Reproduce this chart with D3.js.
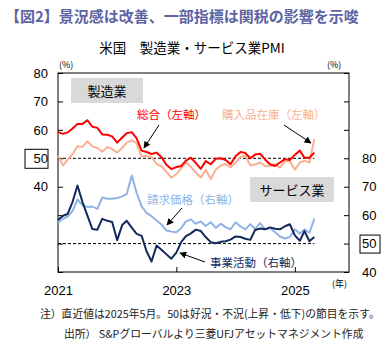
<!DOCTYPE html>
<html>
<head>
<meta charset="utf-8">
<script src="https://cdn.jsdelivr.net/npm/d3@7"></script>
<style>
  body { margin: 0; background: #fff; }
  svg { font-family: "Noto Sans CJK JP", "Noto Sans", sans-serif; }
</style>
</head>
<body>
<div id="chart"></div>
<script>
// monthly data, 2021-01 .. 2025-05
const months = d3.timeMonth.range(new Date(2021, 0, 1), new Date(2025, 5, 1));

// 製造業 総合 (left axis)
const mfgComposite = [
  59.2, 58.6, 59.1, 60.5, 62.1, 62.1, 63.4, 61.1, 60.7, 58.4, 58.3, 57.7,
  55.5, 57.3, 58.8, 59.2, 57.0, 52.7, 52.2, 51.5, 52.0, 50.4, 47.7, 46.2,
  46.9, 47.3, 49.2, 50.2, 48.4, 46.3, 49.0, 47.9, 49.8, 50.0, 49.4, 47.9,
  50.7, 52.2, 51.9, 50.0, 51.3, 51.6, 49.6, 47.9, 47.3, 48.5, 49.7, 49.4,
  51.2, 52.7, 50.2, 50.2, 52.0
];
// 製造業 購入品在庫 (left axis)
const mfgStocks = [
  51.0, 47.5, 49.5, 51.5, 54.2, 54.0, 56.0, 54.2, 53.6, 52.3, 54.0, 53.2,
  52.0, 53.7, 55.5, 56.3, 55.3, 50.6, 50.8, 50.5, 48.0, 47.2, 45.3, 43.2,
  44.4, 46.5, 48.5, 47.0, 45.0, 43.2, 46.0, 42.7, 46.0, 47.4, 48.0, 46.8,
  48.5, 50.5, 51.0, 47.5, 47.8, 48.5, 47.2, 47.4, 47.9, 46.7, 49.0, 49.0,
  46.0, 48.5, 49.1, 48.5, 56.7
];
// サービス業 請求価格 (right axis)
const svcPrices = [
  57.3, 58.7, 59.5, 61.5, 65.5, 63.5, 62.9, 63.0, 62.2, 66.2, 65.8, 65.8,
  66.0, 66.6, 67.4, 73.9, 67.8, 63.1, 60.8, 59.6, 58.1, 56.7, 54.6, 54.2,
  54.0, 55.5, 57.8, 58.5, 57.0, 57.8, 56.2, 57.5, 55.5, 57.0, 55.8, 55.0,
  57.5, 56.0, 55.0, 56.8, 55.2, 57.2, 55.0, 55.5, 54.0, 52.5, 51.8, 52.3,
  55.0, 53.5, 55.0, 53.8, 58.8
];
// サービス業 事業活動 (right axis)
const svcActivity = [
  58.3, 59.8, 60.4, 64.7, 70.4, 64.6, 59.9, 55.1, 54.9, 58.7, 58.0, 57.6,
  51.2, 56.5, 58.0, 55.6, 53.4, 52.7, 47.3, 43.7, 49.3, 47.8, 46.2, 44.7,
  46.8, 50.6, 52.6, 53.6, 54.9, 54.4, 52.3, 50.5, 50.1, 50.6, 50.8, 51.4,
  52.5, 52.3, 51.7, 51.3, 54.8, 55.3, 55.0, 55.7, 55.2, 55.0, 56.1, 56.8,
  52.9, 51.0, 54.4, 50.8, 52.3
];

const leftTicks = [10, 20, 30, 40, 50, 60, 70, 80];
const rightTicks = [40, 50, 60, 70, 80, 90, 100, 110];
const yearTicks = [2021, 2023, 2025];

const width = 391, height = 350;
const plot = {left: 58, right: 349, top: 73, bottom: 272};

const svg = d3.select('#chart').append('svg')
  .attr('width', width).attr('height', height);

const x = d3.scaleTime()
  .domain([new Date(2021, 0, 1), new Date(2025, 11, 1)])
  .range([plot.left, plot.right]);
const yL = d3.scaleLinear().domain([10, 80]).range([plot.bottom, plot.top]);
const yR = d3.scaleLinear().domain([40, 110]).range([plot.bottom, plot.top]);

// title
svg.append('text').attr('x', 5).attr('y', 22)
  .attr('fill', '#5d63a3').attr('font-size', 15).attr('font-weight', 'bold')
  .text('【図2】景況感は改善、一部指標は関税の影響を示唆');
svg.append('text').attr('x', 192).attr('y', 53).attr('text-anchor', 'middle')
  .attr('font-size', 13.5).attr('fill', '#000')
  .text('米国　製造業・サービス業PMI');

// frame
svg.append('rect')
  .attr('x', plot.left).attr('y', plot.top)
  .attr('width', plot.right - plot.left).attr('height', plot.bottom - plot.top)
  .attr('fill', 'none').attr('stroke', '#000').attr('stroke-width', 1);

// axes (ticks point inward)
const axisL = svg.append('g')
  .attr('transform', `translate(${plot.left},0)`)
  .call(d3.axisLeft(yL).tickValues(leftTicks).tickSize(-5).tickPadding(10)
    .tickFormat(d => d >= 40 ? d : ''));
const axisR = svg.append('g')
  .attr('transform', `translate(${plot.right},0)`)
  .call(d3.axisRight(yR).tickValues(rightTicks).tickSize(-5).tickPadding(13)
    .tickFormat(d => d <= 80 ? d : ''));
const axisB = svg.append('g')
  .attr('transform', `translate(0,${plot.bottom})`)
  .call(d3.axisBottom(x).tickValues(yearTicks.map(y => new Date(y, 0, 1)))
    .tickSize(-5).tickPadding(14).tickFormat(d3.timeFormat('%Y')));

[axisL, axisR, axisB].forEach(g => {
  g.select('.domain').remove();
  g.selectAll('line').attr('stroke', '#000');
  g.selectAll('text').attr('font-size', 13).attr('fill', '#000')
    .attr('font-family', '"Liberation Sans", "Noto Sans", sans-serif');
});

// boxes around 50
axisL.selectAll('.tick').filter(d => d === 50).append('rect')
  .attr('x', -33).attr('y', -9.5).attr('width', 23).attr('height', 19)
  .attr('fill', 'none').attr('stroke', '#000');
axisR.selectAll('.tick').filter(d => d === 50).append('rect')
  .attr('x', 11).attr('y', -9).attr('width', 20).attr('height', 18)
  .attr('fill', 'none').attr('stroke', '#000');

// unit labels
svg.append('text').attr('x', 59).attr('y', 68).attr('font-size', 9).text('(%)');
svg.append('text').attr('x', 327).attr('y', 68).attr('font-size', 9).text('(%)');
svg.append('text').attr('x', 332).attr('y', 287).attr('font-size', 9).text('(年)');

// 50 lines
const last = months[months.length - 1];
svg.append('line')
  .attr('x1', x(months[0])).attr('x2', x(last))
  .attr('y1', yL(50)).attr('y2', yL(50))
  .attr('stroke', '#000').attr('stroke-dasharray', '3,2');
svg.append('line')
  .attr('x1', x(months[0])).attr('x2', x(last))
  .attr('y1', yR(50)).attr('y2', yR(50))
  .attr('stroke', '#000').attr('stroke-dasharray', '3,2');

// panel labels
const panel = (x0, y0, w, h, label) => {
  svg.append('rect').attr('x', x0).attr('y', y0).attr('width', w).attr('height', h)
    .attr('fill', '#d9d9d9');
  svg.append('text').attr('x', x0 + w / 2).attr('y', y0 + h / 2 + 5)
    .attr('text-anchor', 'middle').attr('font-size', 13).attr('fill', '#000')
    .text(label);
};
panel(71, 78, 72, 25, '製造業');
panel(250, 177, 84, 25, 'サービス業');

// lines
const series = [
  {values: mfgStocks, y: yL, color: '#fbb08f'},
  {values: mfgComposite, y: yL, color: '#ff0000'},
  {values: svcPrices, y: yR, color: '#8fb4e3'},
  {values: svcActivity, y: yR, color: '#13285c'}
];
series.forEach(s => {
  svg.append('path')
    .datum(s.values)
    .attr('fill', 'none')
    .attr('stroke', s.color)
    .attr('stroke-width', 2)
    .attr('stroke-linejoin', 'round')
    .attr('d', d3.line().x((d, i) => x(months[i])).y(d => s.y(d)));
});

// arrowheads
svg.append('defs').append('marker')
  .attr('id', 'arr').attr('viewBox', '0 0 10 10')
  .attr('refX', 9).attr('refY', 5)
  .attr('markerWidth', 7).attr('markerHeight', 7)
  .attr('orient', 'auto')
  .append('path').attr('d', 'M0,0L10,5L0,10z').attr('fill', '#000');

const note = (tx, ty, label, color, a) => {
  svg.append('text').attr('x', tx).attr('y', ty).attr('font-size', 11.5)
    .attr('fill', color).text(label);
  svg.append('line')
    .attr('x1', a[0]).attr('y1', a[1]).attr('x2', a[2]).attr('y2', a[3])
    .attr('stroke', '#000').attr('stroke-width', 1)
    .attr('marker-end', 'url(#arr)');
};
note(137, 119, '総合（左軸）', '#ff0000', [159, 125, 144, 148]);
note(222, 119, '購入品在庫（左軸）', '#fbb08f', [284, 125, 311, 143]);
note(147, 204, '請求価格（右軸）', '#8fb4e3', [182, 208, 167, 225]);
note(210, 267, '事業活動（右軸）', '#13285c', [205, 262, 180, 253]);

// footnotes
svg.append('text').attr('x', 40).attr('y', 318).attr('font-size', 10.8).attr('fill', '#222')
  .text('注）直近値は2025年5月。50は好況・不況(上昇・低下)の節目を示す。');
svg.append('text').attr('x', 64).attr('y', 338).attr('font-size', 10.8).attr('fill', '#222')
  .text('出所） S&Pグローバルより三菱UFJアセットマネジメント作成');
</script>
</body>
</html>
